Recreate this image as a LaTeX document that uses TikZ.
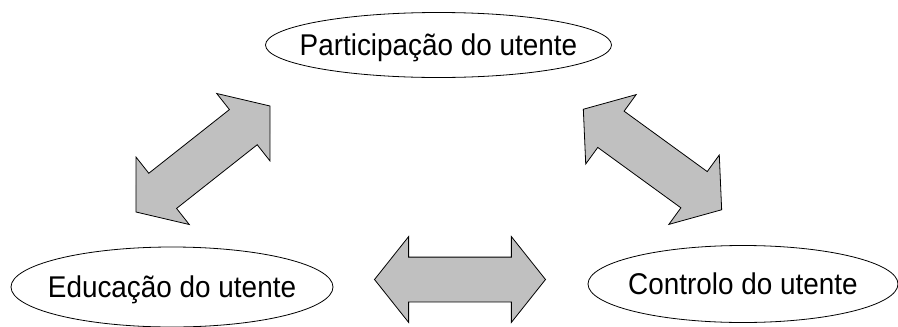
\documentclass[tikz,border=0pt]{standalone}
\usepackage{fontspec}
\setmainfont[FakeStretch=0.93]{Liberation Sans}
\usepackage{tikz}
\usetikzlibrary{shapes.geometric,shapes.arrows}
\definecolor{setacinza}{RGB}{192,192,192}

\begin{document}
\begin{tikzpicture}[x=1pt, y=-1pt, line width=0.8pt,
  utente/.style={ellipse, draw, inner xsep=-40pt, inner ysep=0pt, text depth=0pt,
    font=\fontsize{30}{34}\selectfont},
  seta/.style={double arrow, draw, fill=setacinza, inner xsep=0pt, inner ysep=22pt,
    minimum height=171pt,
    double arrow head extend=20.5pt, double arrow tip angle=103}]
\useasboundingbox (0,0) rectangle (898,327);  % margens da figura
\node[utente, minimum width=346pt, minimum height=65pt] (part) at (438.5,45) {Participação do utente};
\node[utente, minimum width=322pt, minimum height=80pt] (edu) at (172,287) {Educação do utente};
\node[utente, minimum width=310pt, minimum height=77pt] (ctl) at (743,284) {Controlo do utente};
\node[seta, rotate=38.3] (setaEP) at (203,159) {};   % educação <-> participação
\node[seta, rotate=-36] (setaPC) at (652.5,159.5) {}; % participação <-> controlo
\node[seta] (setaEC) at (460,279.5) {};               % educação <-> controlo
\end{tikzpicture}
\end{document}
